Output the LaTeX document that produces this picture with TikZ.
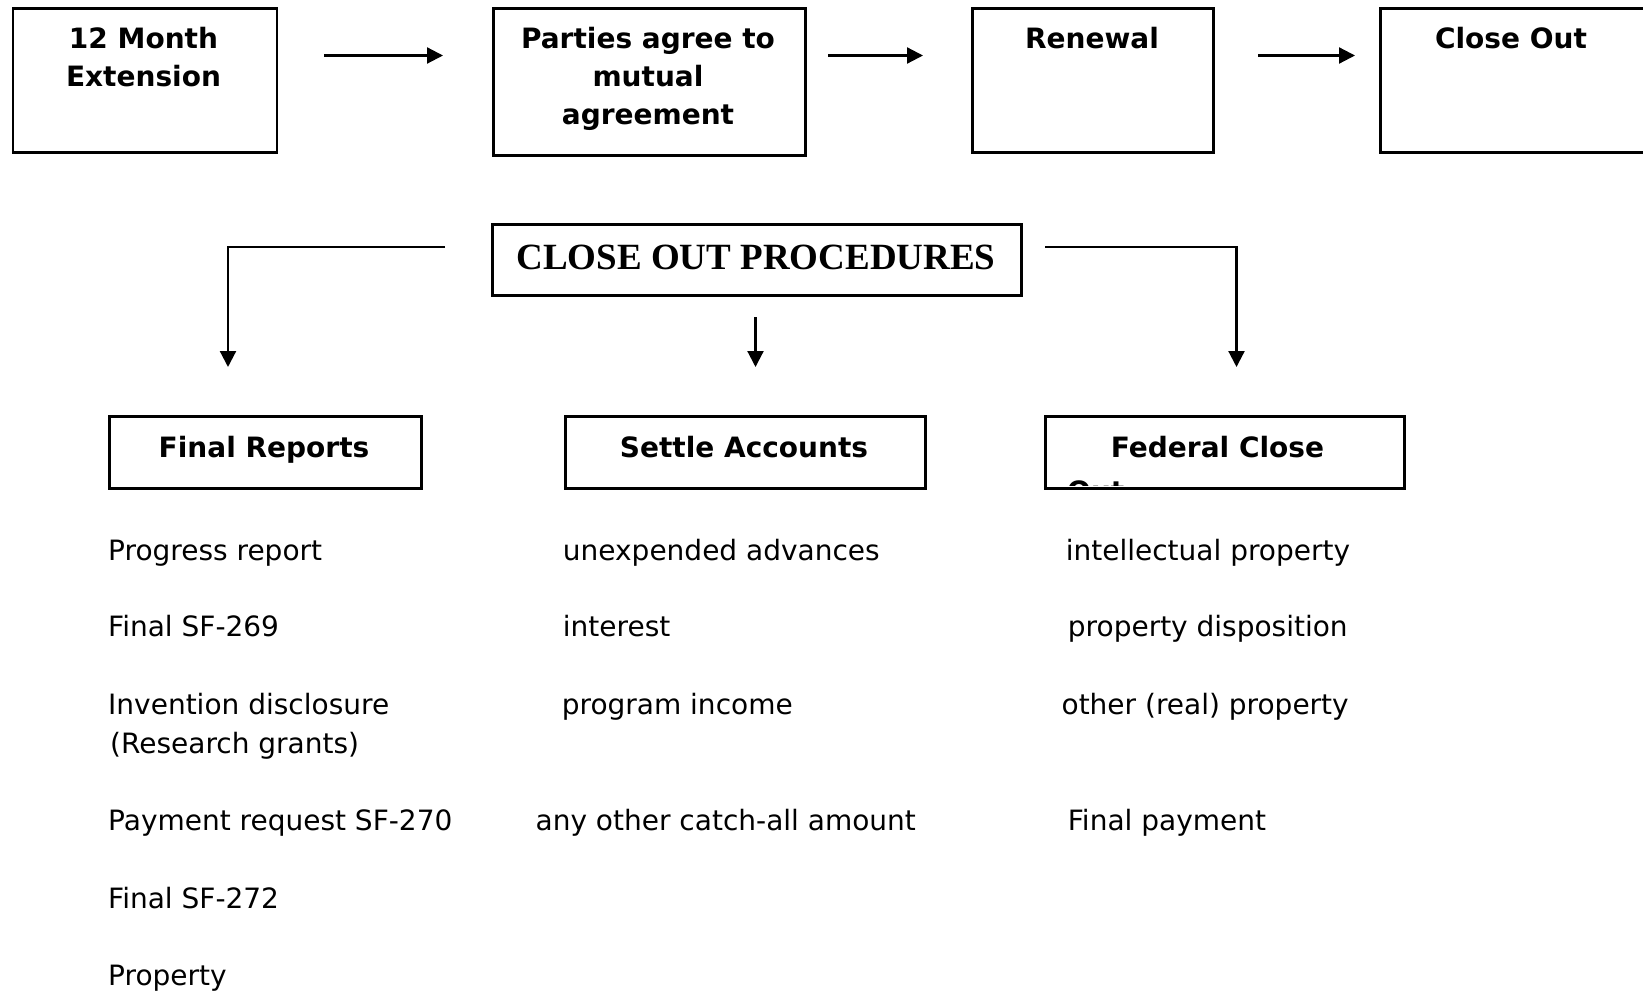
\documentclass[tikz,border=0pt]{standalone}
\usepackage{fontspec}
\setmainfont{DejaVu Sans}
\newfontfamily\procfont{Liberation Serif}
\usetikzlibrary{arrows.meta,calc}
\begin{document}
\begin{tikzpicture}[x=1pt,y=-1pt,
  box/.style={draw, line width=2.6pt, inner sep=0pt, anchor=north west},
  head/.style={font=\fontsize{28}{38.5}\selectfont\bfseries, anchor=base, inner sep=0pt},
  item/.style={font=\fontsize{28}{38.5}\selectfont, anchor=base west, inner sep=0pt},
  conn/.style={line width=2.2pt, -{Triangle[length=16pt,width=16pt]}},
]
\useasboundingbox (0,0) rectangle (1643,995);

% top row boxes
\node[box, minimum width=264pt, minimum height=144pt] (ext) at (11.5,7) {};
\node[box, minimum width=312pt, minimum height=147pt] (parties) at (492,7) {};
\node[box, minimum width=241pt, minimum height=144pt] (renew) at (971,7) {};
\node[box, minimum width=300pt, minimum height=144pt] (closeout) at (1379,7) {};

\node[head] (ext1) at (143.5,49) {12 Month};
\node[head] (ext2) at (143.5,87) {Extension};
\node[head] (par1) at (648,49) {Parties agree to};
\node[head] (par2) at (648,87) {mutual};
\node[head] (par3) at (648,125) {agreement};
\node[head] (ren1) at (1092,49) {Renewal};
\node[head] (clo1) at (1511,49) {Close Out};

% top arrows
\coordinate (a1s) at (324,55.5); \coordinate (a1e) at (443,55.5);
\coordinate (a2s) at (828,55.5); \coordinate (a2e) at (923,55.5);
\coordinate (a3s) at (1258,55.5); \coordinate (a3e) at (1355,55.5);
\draw[conn] (a1s) -- (a1e);
\draw[conn] (a2s) -- (a2e);
\draw[conn] (a3s) -- (a3e);

% close out procedures
\node[box, minimum width=529pt, minimum height=71pt] (proc) at (491,223) {};
\node[anchor=base, inner sep=0pt, font=\procfont\fontsize{37}{44}\selectfont\bfseries] (proct) at (756,269) {CLOSE OUT PROCEDURES};

\coordinate (cl) at (445,247); \coordinate (cle) at (228,367);
\coordinate (cc) at (755.5,317); \coordinate (cce) at (755.5,367);
\coordinate (cr) at (1045,247); \coordinate (cre) at (1236.5,367);
\draw[conn] (cl) -| (cle);
\draw[conn] (cc) -- (cce);
\draw[conn] (cr) -| (cre);

% bottom boxes
\node[box, minimum width=312pt, minimum height=72pt] (final) at (108,415) {};
\node[box, minimum width=360pt, minimum height=72pt] (settle) at (564,415) {};
\node[box, minimum width=359pt, minimum height=72pt] (federal) at (1044,415) {};
\node[head] (finalt) at (264,457.5) {Final Reports};
\node[head] (settlet) at (744,457.5) {Settle Accounts};
\node[head] (fedt) at (1217.5,457.5) {Federal Close};
\begin{scope}
  \clip (1045.5,416.5) rectangle (1401.5,485.5);
  \node[head, anchor=base west] (fedt2) at (1067,501) {Out};
\end{scope}

% column 1
\node[item] (i11) at (108,560) {Progress report};
\node[item] (i12) at (108,636.6) {Final SF-269};
\node[item] (i13) at (108,714) {Invention disclosure};
\node[item] (i13b) at (110,753) {(Research grants)};
\node[item] (i14) at (108,830) {Payment request SF-270};
\node[item] (i15) at (108,908) {Final SF-272};
\node[item] (i16) at (108,985.5) {Property};

% column 2
\node[item] (i21) at (562.7,560) {unexpended advances};
\node[item] (i22) at (562.7,636.6) {interest};
\node[item] (i23) at (561.6,714) {program income};
\node[item] (i24) at (535.4,830) {any other catch-all amount};

% column 3
\node[item] (i31) at (1065.6,560) {intellectual property};
\node[item] (i32) at (1067.7,636.6) {property disposition};
\node[item] (i33) at (1061.4,714) {other (real) property};
\node[item] (i34) at (1067.7,830) {Final payment};
\end{tikzpicture}
\end{document}
